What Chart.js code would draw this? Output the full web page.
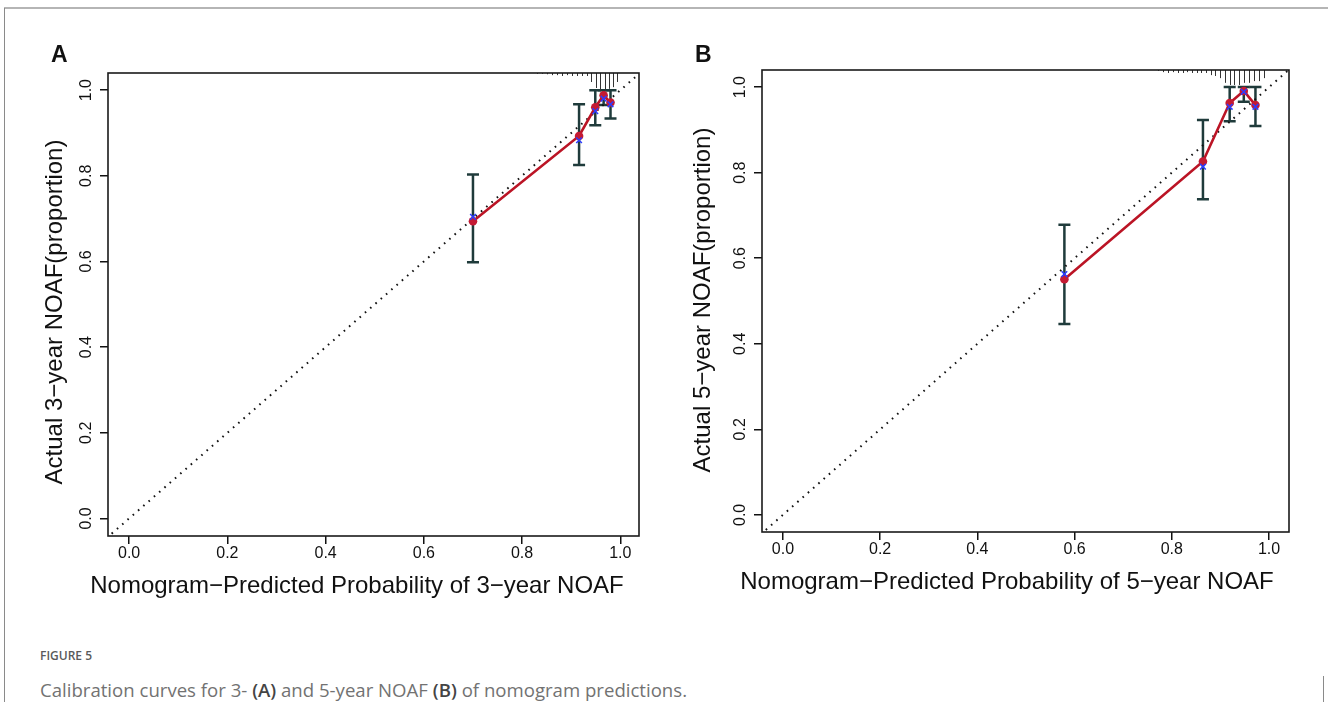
<!DOCTYPE html>
<html>
<head>
<meta charset="utf-8">
<script src="https://cdn.jsdelivr.net/npm/chart.js@4"></script>
<style>
  html, body { margin: 0; padding: 0; background: #fff; }
  body { width: 1328px; height: 702px; position: relative; overflow: hidden; }
  canvas { position: absolute; }
  #cA { left: 0; top: 0; }
  #cB { left: 664px; top: 0; }
  .frameTop { position: absolute; left: 4px; top: 7px; width: 1324px; height: 2px; background: #b5b5b5; }
  .frameLeft { position: absolute; left: 4px; top: 8px; width: 1px; height: 694px; background: #8a8a8a; }
  .frameRight { position: absolute; left: 1323px; top: 676px; width: 1px; height: 26px; background: #8a8a8a; }
  .cap1 { position: absolute; left: 40px; top: 647px; font-family: "Open Sans", sans-serif; font-size: 12px; color: #5a5a5a; font-weight: 600; letter-spacing: 0px; }
  .cap2 { position: absolute; left: 40px; top: 677px; font-family: "Open Sans", sans-serif; font-size: 18.6px; color: #727272; font-weight: 400; }
  .cap2 b { color: #444; font-weight: 600; }
</style>
</head>
<body>
<div class="frameTop"></div>
<div class="frameLeft"></div>
<div class="frameRight"></div>
<canvas id="cA" width="664" height="620"></canvas>
<canvas id="cB" width="664" height="620"></canvas>
<div class="cap1">FIGURE 5</div>
<div class="cap2">Calibration curves for 3- <b>(A)</b> and 5-year NOAF <b>(B)</b> of nomogram predictions.</div>
<script>
// ---------- data ----------
const tickValues = [0.0, 0.2, 0.4, 0.6, 0.8, 1.0];

// Panel A: 3-year
const pred3 = [0.700, 0.916, 0.949, 0.966, 0.980];
const obs3  = [0.694, 0.893, 0.960, 0.988, 0.971];
const corr3 = [0.704, 0.883, 0.951, 0.980, 0.967];
const lo3   = [0.598, 0.825, 0.918, 0.965, 0.934];
const hi3   = [0.803, 0.967, 1.000, 1.000, 1.000];
const rugX3 = [0.831, 0.841, 0.851, 0.861, 0.871, 0.882, 0.892, 0.902, 0.912, 0.922, 0.933, 0.941, 0.951, 0.959, 0.969, 0.976, 0.986, 0.994];
const rugH3 = [0.002, 0.002, 0.003, 0.005, 0.005, 0.007, 0.005, 0.007, 0.007, 0.007, 0.007, 0.021, 0.035, 0.042, 0.042, 0.037, 0.033, 0.021];

// Panel B: 5-year
const pred5 = [0.579, 0.864, 0.919, 0.948, 0.972];
const obs5  = [0.551, 0.826, 0.963, 0.991, 0.958];
const corr5 = [0.563, 0.814, 0.954, 0.989, 0.954];
const lo5   = [0.446, 0.738, 0.920, 0.966, 0.909];
const hi5   = [0.678, 0.923, 1.000, 1.000, 1.000];
const rugX5 = [0.771, 0.781, 0.792, 0.802, 0.812, 0.823, 0.831, 0.841, 0.852, 0.860, 0.870, 0.880, 0.889, 0.899, 0.909, 0.920, 0.928, 0.938, 0.949, 0.959, 0.969, 0.979, 0.990];
const rugH5 = [0.002, 0.005, 0.007, 0.005, 0.007, 0.007, 0.005, 0.007, 0.007, 0.007, 0.007, 0.012, 0.014, 0.019, 0.030, 0.035, 0.035, 0.035, 0.030, 0.030, 0.026, 0.026, 0.019];

// ---------- helpers ----------
const FONT = "'Liberation Sans', Arial, sans-serif";
Chart.defaults.font.family = FONT;

function pts(xs, ys) { return xs.map((x, i) => ({ x: x, y: ys[i] })); }

const panelPlugin = {
  id: 'panel',
  beforeDatasetsDraw(chart, args, o) {
    const ctx = chart.ctx, xs = chart.scales.x, ys = chart.scales.y;
    ctx.save();
    // error bars
    ctx.strokeStyle = '#1f3b3b';
    ctx.lineWidth = 2.5;
    o.pred.forEach((p, i) => {
      const px = xs.getPixelForValue(p);
      const y1 = ys.getPixelForValue(o.lo[i]);
      const y2 = ys.getPixelForValue(o.hi[i]);
      ctx.beginPath();
      ctx.moveTo(px, y1); ctx.lineTo(px, y2);
      ctx.moveTo(px - 6, y1); ctx.lineTo(px + 6, y1);
      ctx.moveTo(px - 6, y2); ctx.lineTo(px + 6, y2);
      ctx.stroke();
    });
    ctx.restore();
  },
  afterDraw(chart, args, o) {
    const ctx = chart.ctx, xs = chart.scales.x, ys = chart.scales.y;
    const a = chart.chartArea;
    ctx.save();
    // rug (distribution of predictions) hanging from top
    ctx.strokeStyle = '#333';
    ctx.lineWidth = 1;
    o.rugX.forEach((rx, i) => {
      const px = Math.round(xs.getPixelForValue(rx)) + 0.5;
      ctx.beginPath();
      ctx.moveTo(px, ys.getPixelForValue(ys.max));
      ctx.lineTo(px, ys.getPixelForValue(ys.max - o.rugH[i]));
      ctx.stroke();
    });
    // box
    ctx.strokeStyle = '#1a1a1a';
    ctx.lineWidth = 1.6;
    ctx.strokeRect(a.left, a.top, a.right - a.left, a.bottom - a.top);
    // axis titles
    ctx.fillStyle = '#111';
    ctx.font = '24px ' + FONT;
    ctx.textAlign = 'center';
    ctx.textBaseline = 'middle';
    ctx.fillText(o.xTitle, o.xTitlePos[0], o.xTitlePos[1]);
    ctx.save();
    ctx.translate(o.yTitlePos[0], o.yTitlePos[1]);
    ctx.rotate(-Math.PI / 2);
    ctx.fillText(o.yTitle, 0, 0);
    ctx.restore();
    // panel letter
    ctx.font = 'bold 23px ' + FONT;
    ctx.textAlign = 'left';
    ctx.textBaseline = 'alphabetic';
    ctx.fillText(o.letter, o.letterPos[0], o.letterPos[1]);
    ctx.restore();
  }
};

function makeChart(id, d) {
  const diag = [{ x: -0.1, y: -0.1 }, { x: 1.1, y: 1.1 }];
  return new Chart(document.getElementById(id), {
    type: 'scatter',
    data: {
      datasets: [
        { data: diag, showLine: true, borderColor: '#111', borderWidth: 2, borderDash: [1.6, 5.4], pointRadius: 0, order: 4 },
        { data: pts(d.pred, d.obs), showLine: true, borderColor: '#bb1425', borderWidth: 2.6, pointRadius: 0, order: 3 },
        { data: pts(d.pred, d.obs), showLine: false, pointStyle: 'circle', pointRadius: 4.3, backgroundColor: '#c41a33', borderColor: '#c41a33', borderWidth: 0, order: 2 },
        { data: pts(d.pred, d.corr), showLine: false, pointStyle: 'crossRot', pointRadius: 4, borderColor: '#2b3cff', borderWidth: 1.5, order: 1 }
      ]
    },
    options: {
      responsive: false,
      animation: false,
      events: [],
      layout: { padding: d.padding },
      plugins: {
        legend: { display: false },
        tooltip: { enabled: false },
        panel: d.panel
      },
      scales: {
        x: {
          type: 'linear', min: d.xmin, max: d.xmax,
          afterBuildTicks: s => { s.ticks = tickValues.map(v => ({ value: v })); },
          afterFit: s => { s.height = d.xAxisH; },
          ticks: { callback: v => v.toFixed(1), font: { size: 16 }, color: '#111', padding: 0, maxRotation: 0, minRotation: 0 },
          grid: { display: true, drawOnChartArea: false, drawTicks: true, tickLength: 8, color: '#111', lineWidth: 1.5 },
          border: { display: false }
        },
        y: {
          type: 'linear', min: d.ymin, max: d.ymax,
          afterBuildTicks: s => { s.ticks = tickValues.map(v => ({ value: v })); },
          afterFit: s => { s.width = d.yAxisW; },
          ticks: { callback: v => v.toFixed(1), font: { size: 16 }, color: '#111', padding: 2, minRotation: 90, maxRotation: 90, crossAlign: 'center' },
          grid: { display: true, drawOnChartArea: false, drawTicks: true, tickLength: 8, color: '#111', lineWidth: 1.5 },
          border: { display: false }
        }
      }
    },
    plugins: [panelPlugin]
  });
}

makeChart('cA', {
  pred: pred3, obs: obs3, corr: corr3,
  xmin: -0.043, xmax: 1.038, ymin: -0.041, ymax: 1.040,
  padding: { left: 0, top: 73, right: 25, bottom: 0 },
  yAxisW: 108, xAxisH: 84,
  panel: {
    pred: pred3, lo: lo3, hi: hi3, rugX: rugX3, rugH: rugH3,
    xTitle: 'Nomogram\u2212Predicted Probability of 3\u2212year NOAF', xTitlePos: [357, 586],
    yTitle: 'Actual 3\u2212year NOAF(proportion)', yTitlePos: [55, 312],
    letter: 'A', letterPos: [51, 62]
  }
});

makeChart('cB', {
  pred: pred5, obs: obs5, corr: corr5,
  xmin: -0.043, xmax: 1.041, ymin: -0.040, ymax: 1.040,
  padding: { left: 0, top: 70, right: 39, bottom: 0 },
  yAxisW: 98, xAxisH: 88,
  panel: {
    pred: pred5, lo: lo5, hi: hi5, rugX: rugX5, rugH: rugH5,
    xTitle: 'Nomogram\u2212Predicted Probability of 5\u2212year NOAF', xTitlePos: [1007 - 664, 582],
    yTitle: 'Actual 5\u2212year NOAF(proportion)', yTitlePos: [703 - 664, 300],
    letter: 'B', letterPos: [695 - 664, 62]
  }
});
</script>
</body>
</html>
